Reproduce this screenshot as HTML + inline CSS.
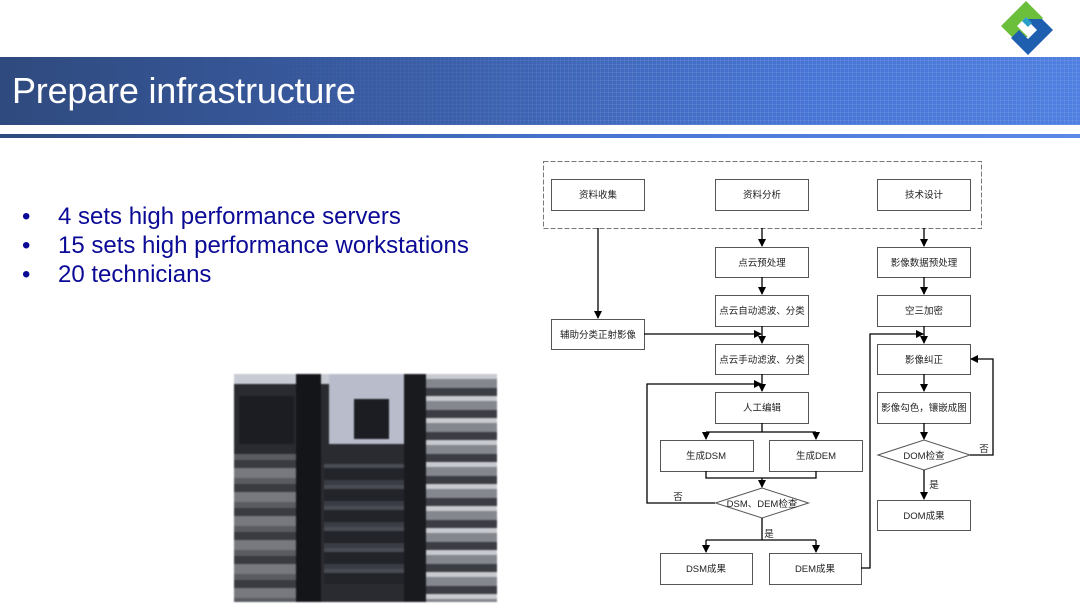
<!DOCTYPE html>
<html><head><meta charset="utf-8"><style>
body{margin:0;width:1080px;height:608px;overflow:hidden;background:#fff;font-family:"Liberation Sans",Arial,sans-serif;position:relative}
.banner{position:absolute;left:0;top:57px;width:1080px;height:68px;background:linear-gradient(90deg,#2f4a7e 0%,#3a5ea8 40%,#4775d6 75%,#4f7fe0 100%)}
.grid{position:absolute;left:0;top:57px;width:1080px;height:68px;background-image:repeating-linear-gradient(90deg,rgba(255,255,255,.08) 0 1px,transparent 1px 4px),repeating-linear-gradient(0deg,rgba(255,255,255,.08) 0 1px,transparent 1px 4px);-webkit-mask-image:linear-gradient(90deg,transparent 0,transparent 20%,#000 60%);mask-image:linear-gradient(90deg,transparent 0,transparent 20%,#000 60%)}
.title{position:absolute;left:12px;top:70px;color:#fff;font-size:36px;letter-spacing:-0.2px}
.line{position:absolute;left:0;top:134px;width:1080px;height:4px;background:linear-gradient(90deg,#2f4a7e,#4a78d8 60%,#5a8ae8)}
ul{position:absolute;left:22px;top:202px;margin:0;padding:0;list-style:none;color:#0a0a96;font-size:24px;line-height:29px}
li span{display:inline-block;width:36px}
.photo{position:absolute;left:234px;top:374px;width:263px;height:228px;background:#2a2b30;overflow:hidden;filter:blur(0.8px)}
.photo div{position:absolute}
</style></head><body>
<svg style="position:absolute;left:995px;top:0" width="64" height="56" viewBox="0 0 64 56">
<path d="M31 1 L48 18 L40 26 L31 17 L22 26 L33 37 L17 37 L6 26 Z" fill="#6cbf3a"/>
<path d="M33 55 L16 38 L24 30 L33 39 L42 30 L31 19 L47 19 L58 30 Z" fill="#1f5fb0"/>
<path d="M31 17 L37 23 L33 27 L27 21 Z" fill="#2aa0c8"/>
</svg>
<div class="banner"></div><div class="grid"></div>
<div class="title">Prepare infrastructure</div>
<div class="line"></div>
<ul><li><span>•</span>4 sets high performance servers</li><li><span>•</span>15 sets high performance workstations</li><li><span>•</span>20 technicians</li></ul>
<div class="photo">
<div style="left:0;top:0;width:263px;height:10px;background:#c9cbd4"></div>
<div style="left:95px;top:0;width:75px;height:70px;background:#b9bccb"></div>
<div style="left:5px;top:22px;width:55px;height:48px;background:#1c1d22"></div>
<div style="left:120px;top:25px;width:35px;height:40px;background:#1c1d22"></div>
<div style="left:0;top:80px;width:62px;height:150px;background:repeating-linear-gradient(180deg,#5a5c63 0 6px,#3a3b40 6px 14px,#77797f 14px 24px)"></div>
<div style="left:62px;top:0;width:25px;height:228px;background:#141518"></div>
<div style="left:90px;top:90px;width:80px;height:120px;background:repeating-linear-gradient(180deg,#4a4c55 0 4px,#22242a 4px 16px,#3a3c45 16px 21px)"></div>
<div style="left:170px;top:0;width:22px;height:228px;background:#191a1e"></div>
<div style="left:192px;top:0;width:71px;height:228px;background:repeating-linear-gradient(180deg,#c8cad0 0 5px,#85878f 5px 14px,#3c3d44 14px 22px)"></div>
</div>
<svg style="position:absolute;left:0;top:0" width="1080" height="608" font-family="'Liberation Sans','Noto Sans CJK SC',sans-serif" font-size="9.5">
<defs><marker id="a" markerWidth="8" markerHeight="8" refX="7" refY="4" orient="auto" markerUnits="userSpaceOnUse"><path d="M0,0 L8,4 L0,8 Z" fill="#000"/></marker></defs>
<rect x="543.5" y="161.5" width="438" height="67" fill="none" stroke="#777" stroke-dasharray="5,2"/>
<g fill="#fff" stroke="#555" stroke-width="1">
<rect x="551.5" y="179.5" width="93" height="31"/><rect x="715.5" y="179.5" width="93" height="31"/><rect x="877.5" y="179.5" width="93" height="31"/>
<rect x="715.5" y="247.5" width="93" height="30"/><rect x="877.5" y="247.5" width="93" height="30"/>
<rect x="715.5" y="295.5" width="93" height="31"/><rect x="877.5" y="295.5" width="93" height="31"/>
<rect x="551.5" y="319.5" width="93" height="30"/>
<rect x="715.5" y="344.5" width="93" height="30"/><rect x="877.5" y="344.5" width="93" height="30"/>
<rect x="715.5" y="392.5" width="93" height="31"/><rect x="877.5" y="392.5" width="93" height="31"/>
<rect x="660.5" y="440.5" width="93" height="31"/><rect x="769.5" y="440.5" width="93" height="31"/>
<path d="M715.5 503 L762 488 L808.5 503 L762 518 Z"/><path d="M878 455 L924 440 L970 455 L924 470 Z"/>
<rect x="877.5" y="500.5" width="93" height="30"/>
<rect x="660.5" y="553.5" width="92" height="31"/><rect x="769.5" y="553.5" width="92" height="31"/>
</g>
<g fill="none" stroke="#000" stroke-width="1.3">
<path d="M598 228V318" marker-end="url(#a)"/>
<path d="M762 228V246" marker-end="url(#a)"/><path d="M762 277V294" marker-end="url(#a)"/><path d="M762 326V343" marker-end="url(#a)"/>
<path d="M644 334H761" marker-end="url(#a)"/>
<path d="M762 374V391" marker-end="url(#a)"/>
<path d="M715 503H647V384H761" marker-end="url(#a)"/>
<path d="M762 423V432M706 432H816"/><path d="M706 432V439" marker-end="url(#a)"/><path d="M816 432V439" marker-end="url(#a)"/>
<path d="M706 471V478H816V471M762 478V487" marker-end="url(#a)"/>
<path d="M762 518V540M706 540H816"/><path d="M706 540V552" marker-end="url(#a)"/><path d="M816 540V552" marker-end="url(#a)"/>
<path d="M861 568H870V334H923" marker-end="url(#a)"/>
<path d="M924 228V246" marker-end="url(#a)"/><path d="M924 277V294" marker-end="url(#a)"/><path d="M924 326V343" marker-end="url(#a)"/>
<path d="M924 374V391" marker-end="url(#a)"/><path d="M924 423V439" marker-end="url(#a)"/><path d="M924 470V499" marker-end="url(#a)"/>
<path d="M970 455H993V359H971" marker-end="url(#a)"/>
</g>
<g text-anchor="middle" fill="#222">
<text x="598" y="198">资料收集</text><text x="762" y="198">资料分析</text><text x="924" y="198">技术设计</text>
<text x="762" y="266">点云预处理</text><text x="924" y="266">影像数据预处理</text>
<text x="762" y="314">点云自动滤波、分类</text><text x="924" y="314">空三加密</text>
<text x="598" y="338">辅助分类正射影像</text>
<text x="762" y="363">点云手动滤波、分类</text><text x="924" y="363">影像纠正</text>
<text x="762" y="411">人工编辑</text><text x="924" y="411">影像勾色，镶嵌成图</text>
<text x="706" y="459">生成DSM</text><text x="816" y="459">生成DEM</text>
<text x="762" y="507">DSM、DEM检查</text><text x="924" y="459">DOM检查</text>
<text x="924" y="519">DOM成果</text>
<text x="706" y="572">DSM成果</text><text x="815" y="572">DEM成果</text>
<text x="984" y="452">否</text><text x="934" y="488">是</text><text x="678" y="500">否</text><text x="769" y="537">是</text>
</g>
</svg>
</body></html>
